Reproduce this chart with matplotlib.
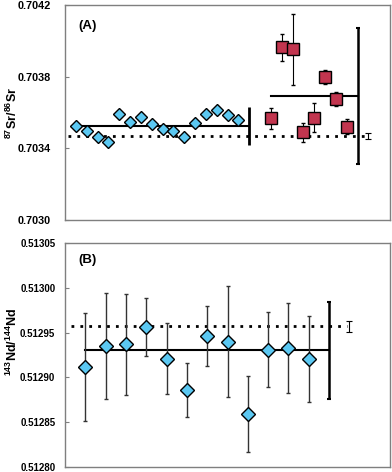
import numpy as np
import matplotlib
matplotlib.use("Agg")
import matplotlib.pyplot as plt

plt.rcParams['font.family'] = ['Liberation Sans', 'DejaVu Sans']
plt.rcParams['mathtext.fontset'] = 'custom'
plt.rcParams['mathtext.rm'] = 'Liberation Sans:bold'
plt.rcParams['mathtext.bf'] = 'Liberation Sans:bold'
plt.rcParams['mathtext.it'] = 'Liberation Sans:bold'

# panel A: 87Sr/86Sr
sr_blue = [0.703525, 0.703499, 0.703465, 0.703433, 0.703590, 0.703549, 0.703577, 0.703534,
           0.703506, 0.703499, 0.703461, 0.703539, 0.703592, 0.703614, 0.703586, 0.703558]
sr_red = [0.703568, 0.703964, 0.703953, 0.703489, 0.703571, 0.703798, 0.703677, 0.703521]
sr_red_err = [0.000060, 0.000077, 0.000199, 0.000054, 0.000082, 0.000039, 0.000040, 0.000042]
sr_blue_mean, sr_blue_2sd = 0.703525, 0.000105
sr_red_mean, sr_red_2sd = 0.703692, 0.000381
sr_ref, sr_ref_err = 0.703467, 0.000017

# panel B: 143Nd/144Nd
nd_vals = [0.512912, 0.512935, 0.512937, 0.512956, 0.512921, 0.512886,
           0.512946, 0.512940, 0.512859, 0.512931, 0.512933, 0.512920]
nd_err = [0.0000604, 0.0000587, 0.0000565, 0.0000323, 0.0000400, 0.0000299,
          0.0000339, 0.0000615, 0.0000420, 0.0000420, 0.0000500, 0.0000480]
nd_mean, nd_2sd = 0.512930, 0.0000543
nd_ref, nd_ref_err = 0.512957, 0.0000064

blue = '#5BC8F2'
red = '#C2354F'
spine_col = '#7f7f7f'

fig = plt.figure(figsize=(3.92, 4.72), dpi=100)
axA = fig.add_axes([0.166, 0.534, 0.829, 0.455])
axB = fig.add_axes([0.166, 0.011, 0.829, 0.474])

for ax in (axA, axB):
    for s in ax.spines.values():
        s.set_color(spine_col)
        s.set_linewidth(1.0)
    ax.set_xticks([])

axA.tick_params(axis='y', direction='in', length=3, width=0.8, color=spine_col,
                labelsize=7.8, pad=10)
axB.tick_params(axis='y', direction='in', length=3, width=0.8, color=spine_col,
                labelsize=7.0, pad=7)

# ---- panel A
xb = np.arange(1, len(sr_blue) + 1)
xr = np.arange(19, 19 + len(sr_red))
axA.plot([0.3, 27.7], [sr_ref, sr_ref], color='black', ls=(0, (1, 2.2)), lw=2, zorder=1)
axA.errorbar([28], [sr_ref], yerr=[sr_ref_err], fmt='none', ecolor='black', elinewidth=0.8,
             capsize=2, capthick=0.8)
axA.plot([1, 17], [sr_blue_mean, sr_blue_mean], color='black', lw=1.5, zorder=2)
axA.errorbar([17], [sr_blue_mean], yerr=[sr_blue_2sd], fmt='none', ecolor='black',
             elinewidth=2, capsize=0)
axA.plot([19, 27], [sr_red_mean, sr_red_mean], color='black', lw=1.5, zorder=2)
axA.errorbar([27], [sr_red_mean], yerr=[sr_red_2sd], fmt='none', ecolor='black',
             elinewidth=1.8, capsize=1.5, capthick=1.5)
axA.plot(xb, sr_blue, ls='none', marker='D', ms=6.6, mfc=blue, mec='black', mew=1.0, zorder=4)
axA.errorbar(xr, sr_red, yerr=sr_red_err, fmt='s', ms=8.5, mfc=red, mec='black', mew=1.0,
             ecolor='black', elinewidth=0.8, capsize=1.5, capthick=0.8, zorder=4)
axA.set_xlim(0, 30)
axA.set_ylim(0.7030, 0.7042)
axA.set_yticks([0.7030, 0.7034, 0.7038, 0.7042])
axA.set_yticklabels(['0.7030', '0.7034', '0.7038', '0.7042'], fontweight='bold')
axA.set_ylabel(r'$^{87}$Sr/$^{86}$Sr', fontsize=9, fontweight='bold')
axA.yaxis.set_label_coords(-0.138, 0.5)
axA.text(0.04, 0.902, '(A)', transform=axA.transAxes, fontsize=9.5, fontweight='bold', va='center')

# ---- panel B
xn = np.arange(1, len(nd_vals) + 1)
axB.plot([0.3, 13.9], [nd_ref, nd_ref], color='black', ls=(0, (1, 2.2)), lw=2, zorder=1)
axB.errorbar([14], [nd_ref], yerr=[nd_ref_err], fmt='none', ecolor='black', elinewidth=0.8,
             capsize=2, capthick=0.8)
axB.plot([1, 13], [nd_mean, nd_mean], color='black', lw=1.5, zorder=2)
axB.errorbar([13], [nd_mean], yerr=[nd_2sd], fmt='none', ecolor='black', elinewidth=1.8,
             capsize=1.5, capthick=1.5)
axB.errorbar(xn, nd_vals, yerr=nd_err, fmt='D', ms=6.8, mfc=blue, mec='black', mew=1.0,
             ecolor='#333333', elinewidth=1.0, capsize=1.5, capthick=1.0, zorder=4)
axB.set_xlim(0, 16)
axB.set_ylim(0.51280, 0.51305)
axB.set_yticks([0.51280, 0.51285, 0.51290, 0.51295, 0.51300, 0.51305])
axB.set_yticklabels(['0.51280', '0.51285', '0.51290', '0.51295', '0.51300', '0.51305'],
                    fontweight='bold')
axB.set_ylabel(r'$^{143}$Nd/$^{144}$Nd', fontsize=9, fontweight='bold')
axB.yaxis.set_label_coords(-0.138, 0.56)
axB.text(0.04, 0.924, '(B)', transform=axB.transAxes, fontsize=9.5, fontweight='bold', va='center')

fig.savefig('out.png', dpi=100)
